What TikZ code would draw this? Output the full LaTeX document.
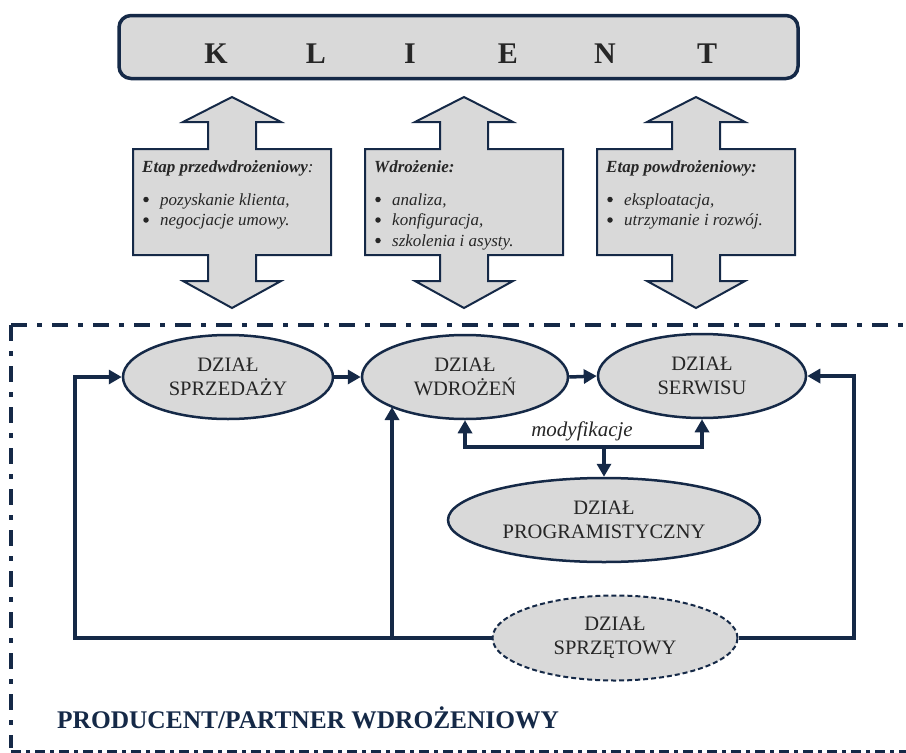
\documentclass[tikz,border=0pt]{standalone}
\usepackage{fontspec}
\setmainfont{Liberation Serif}
\usetikzlibrary{arrows.meta,shapes.geometric}
\definecolor{navy}{RGB}{21,41,71}
\definecolor{boxgray}{RGB}{217,217,217}
\definecolor{txt}{RGB}{38,38,38}
\newcommand\fs[2]{\fontsize{#1}{#2}\selectfont}
\begin{document}
\begin{tikzpicture}[x=1pt,y=-1pt,
  bigletter/.style={anchor=base, font=\fs{30}{30}\bfseries, text=txt, inner sep=0pt},
  dblarrow/.style={draw=navy, fill=boxgray, line width=2pt, line join=miter},
  ttl/.style={anchor=base west, font=\fs{17}{20}\bfseries\itshape, text=txt, inner sep=0pt},
  bul/.style={circle, fill=txt, inner sep=0pt, minimum size=5.5pt},
  itm/.style={anchor=base west, font=\fs{17}{20}\itshape, text=txt, inner sep=0pt},
  dept/.style={ellipse, draw=navy, fill=boxgray, line width=2.5pt, inner sep=0pt,
    align=center, text=txt, font=\fs{20.5}{24}},
  conn/.style={draw=navy, line width=3.5pt, line join=miter},
  tip/.style={-{Triangle[length=13pt,width=14pt]}},
  frame/.style={draw=navy, line width=4pt, dash pattern=on 16pt off 10pt on 5pt off 10pt},
  ]
\useasboundingbox (0,0) rectangle (906,753);

% KLIENT
\node[draw=navy, fill=boxgray, line width=3.5pt, rounded corners=12pt,
  minimum width=679pt, minimum height=63pt, inner sep=0pt] (klient) at (458.5,47) {};
\foreach \l/\x/\n in {K/216/k1, L/316/k2, I/410/k3, E/508/k4, N/605/k5, T/707/k6}
  \node[bigletter] (\n) at (\x,63) {\l};

% double arrows
\foreach \cx in {232,464,696} {
  \draw[dblarrow] (\cx,97) -- ({\cx+49},122) -- ({\cx+24},122) -- ({\cx+24},149)
    -- ({\cx+99},149) -- ({\cx+99},255) -- ({\cx+24},255) -- ({\cx+24},281)
    -- ({\cx+49},281) -- (\cx,308) -- ({\cx-49},281) -- ({\cx-24},281)
    -- ({\cx-24},255) -- ({\cx-99},255) -- ({\cx-99},149) -- ({\cx-24},149)
    -- ({\cx-24},122) -- ({\cx-49},122) -- cycle;
}

% texts in arrows
\node[ttl] (h1) at (142,172) {Etap przedwdrożeniowy\textmd{:}};
\node[bul] (b1a) at (146,199.5) {};
\node[itm] (i1a) at (160,205) {pozyskanie klienta,};
\node[bul] (b1b) at (146,220) {};
\node[itm] (i1b) at (160,225.5) {negocjacje umowy.};

\node[ttl] (h2) at (374,172) {Wdrożenie:};
\node[bul] (b2a) at (378,199.5) {};
\node[itm] (i2a) at (392,205) {analiza,};
\node[bul] (b2b) at (378,220) {};
\node[itm] (i2b) at (392,225.5) {konfiguracja,};
\node[bul] (b2c) at (378,240.5) {};
\node[itm] (i2c) at (392,246) {szkolenia i asysty.};

\node[ttl] (h3) at (606,172) {Etap powdrożeniowy:};
\node[bul] (b3a) at (610,199.5) {};
\node[itm] (i3a) at (624,205) {eksploatacja,};
\node[bul] (b3b) at (610,220) {};
\node[itm] (i3b) at (624,225.5) {utrzymanie i rozwój.};

% frame
\draw[frame] (11,325) -- (906,325);
\draw[frame] (11,325) -- (11,748);
\draw[draw=navy, line width=3pt, dash pattern=on 10pt off 5pt on 4pt off 5pt] (11,751) -- (906,751);

% departments
\node[dept, minimum width=210pt, minimum height=84pt] (sprz) at (228,377) {DZIAŁ\\SPRZEDAŻY};
\node[dept, minimum width=206pt, minimum height=84pt] (wdr) at (465,377) {DZIAŁ\\WDROŻEŃ};
\node[dept, minimum width=208pt, minimum height=84pt] (serw) at (702,376) {DZIAŁ\\SERWISU};
\node[dept, minimum width=312pt, minimum height=84pt] (prog) at (604,520) {DZIAŁ\\PROGRAMISTYCZNY};
\node[dept, dashed, line width=2pt, dash pattern=on 5pt off 3pt,
  minimum width=245pt, minimum height=85pt] (sprzet) at (615,638) {DZIAŁ\\SPRZĘTOWY};

% connectors
\coordinate (bl) at (75,638);
\coordinate (br) at (854,638);
\coordinate (mb) at (392,638);
\coordinate (wdrin) at (392,407);
\coordinate (mj) at (604,447);

\draw[conn,tip] (sprzet.west) -- (bl) |- (sprz.west);
\draw[conn,tip] (mb) -- (wdrin);
\draw[conn,tip] (sprzet.east) -- (br) |- (serw.east);
\draw[conn,tip] (sprz.east) -- (wdr.west);
\draw[conn,tip] (wdr.east) -- (serw.west);
\draw[conn,tip] (mj) -- (prog.north);
\draw[conn,tip] (mj) -| (wdr.south);
\draw[conn,tip] (mj) -| (serw.south);

\node[anchor=base, font=\fs{21}{21}\itshape, text=txt, inner sep=0pt] (mod) at (582,436) {modyfikacje};

\node[anchor=base west, font=\fs{25.4}{25}\bfseries, text=navy, inner sep=0pt] (prod) at (57,728) {PRODUCENT/PARTNER WDROŻENIOWY};
\end{tikzpicture}
\end{document}
